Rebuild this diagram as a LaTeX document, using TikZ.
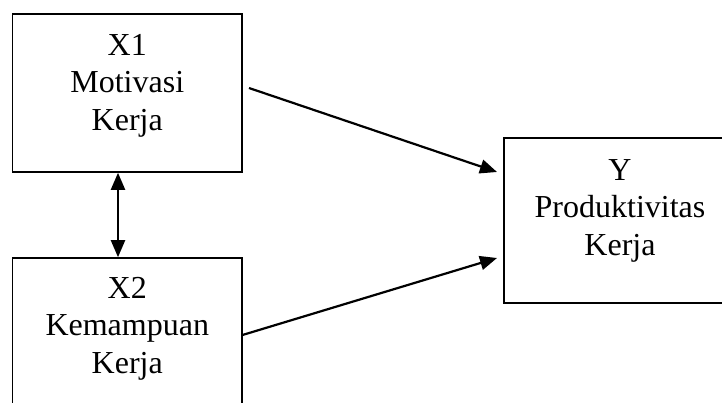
\documentclass[tikz,border=0pt]{standalone}
\usepackage{fontspec}
\setmainfont{Liberation Serif}
\usetikzlibrary{arrows.meta,calc}
\tikzset{
  varbox/.style={draw=black, line width=1.5pt, inner sep=0pt, outer sep=0pt, anchor=north west},
  boxtext/.style={align=center, anchor=north, inner sep=0pt, font=\fontsize{32}{37.5}\selectfont},
  link/.style={line width=2.2pt, -{Triangle[length=17pt,width=14pt]}},
  twolink/.style={line width=2.2pt, {Triangle[length=17pt,width=14pt]}-{Triangle[length=17pt,width=14pt]}}
}
\begin{document}
\begin{tikzpicture}[x=1pt,y=-1pt]
\useasboundingbox (0,0) rectangle (722,403);
\begin{scope}
\clip (0,0) rectangle (722,403);
\node[varbox, minimum width=229.5pt, minimum height=158pt] (x1) at (12.5,14) {};
\node[varbox, minimum width=229.5pt, minimum height=158pt] (x2) at (12.5,258) {};
\node[varbox, minimum width=232pt, minimum height=165pt] (y) at (504,138) {};
\node[boxtext] (tx1) at ($(x1.north)+(0,20)$) {X1\\Motivasi\\Kerja};
\node[boxtext] (tx2) at ($(x2.north)+(0,19)$) {X2\\Kemampuan\\Kerja};
\node[boxtext] (ty) at ($(y.north)+(0,21)$) {Y\\Produktivitas\\Kerja};
\end{scope}
\coordinate (a1s) at ($(x1.north east)+(7,74)$);
\coordinate (a1e) at ($(y.north west)+(-7,34)$);
\coordinate (a2s) at ($(x2.north east)+(0.5,77)$);
\coordinate (a2e) at ($(y.north west)+(-7,120)$);
\coordinate (bs) at ($(x1.south west)+(105.5,0.8)$);
\coordinate (be) at ($(x2.north west)+(105.5,-0.8)$);
\draw[link] (a1s) -- (a1e);
\draw[link] (a2s) -- (a2e);
\draw[twolink] (bs) -- (be);
\end{tikzpicture}
\end{document}
